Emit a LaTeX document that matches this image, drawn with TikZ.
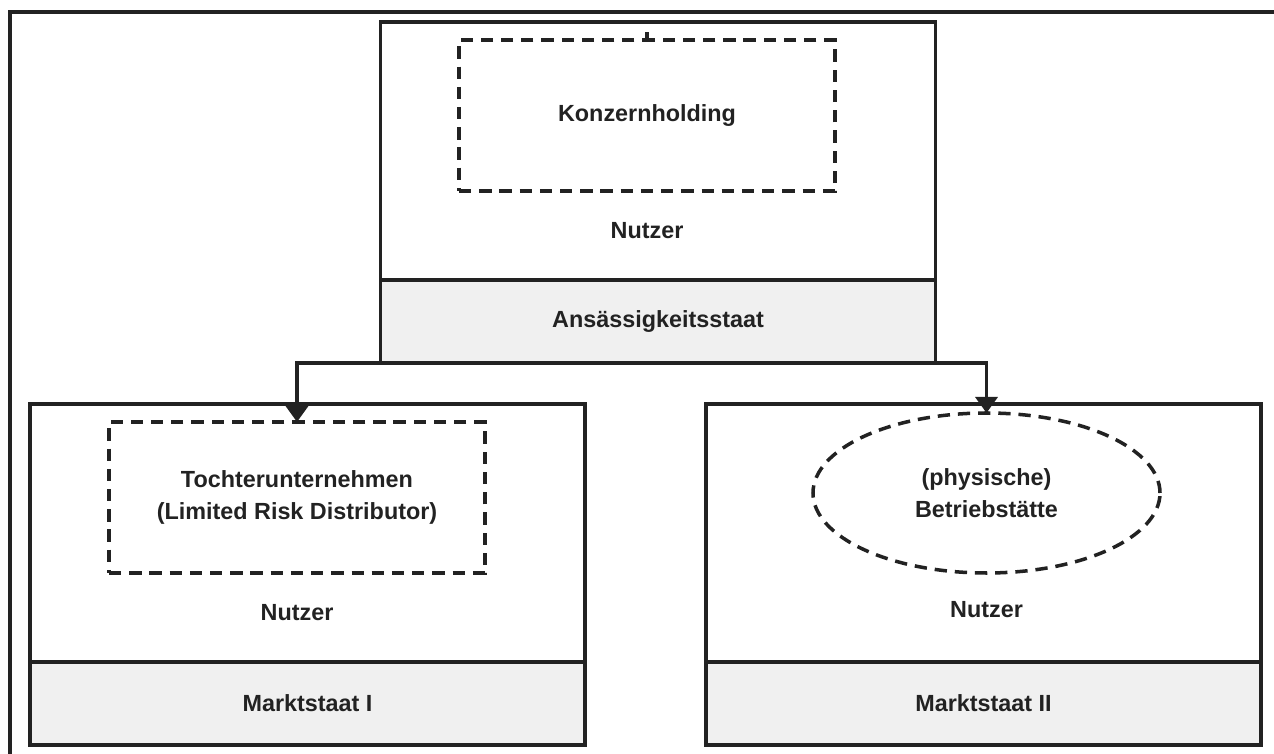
\documentclass[tikz,border=0pt]{standalone}
\usepackage{fontspec}
\setmainfont{Liberation Sans}
\usepackage{xcolor}
\usetikzlibrary{shapes.geometric, arrows.meta, positioning}

\definecolor{bandgray}{HTML}{F0F0F0}
\definecolor{inkgray}{HTML}{222222}

\begin{document}
\begin{tikzpicture}[
    upper/.style={rectangle, draw=inkgray, line width=1.8pt, outer sep=0pt, minimum width=11.1cm, minimum height=5.16cm},
    band/.style={rectangle, draw=inkgray, line width=1.8pt, outer sep=0pt, fill=bandgray, minimum width=11.1cm, minimum height=1.66cm, text=inkgray, font=\bfseries\fontsize{13.3}{18}\selectfont},
    inner/.style={rectangle, draw=inkgray, dash pattern=on 7pt off 4.5pt, line width=2pt, outer sep=0pt, minimum width=7.52cm, minimum height=3.02cm, align=center, text=inkgray, font=\bfseries\fontsize{13.3}{18}\selectfont},
    txt/.style={text=inkgray, font=\bfseries\fontsize{13.3}{18}\selectfont},
    arrow/.style={-{Triangle[length=0.32cm, width=0.44cm]}, line width=2pt, draw=inkgray}
]
\useasboundingbox (0,0) rectangle (25.48,-15.08);

% Outer frame (top and left edge only)
\draw[line width=2.4pt, inkgray] (25.48,-0.24) -- (0.2,-0.24) -- (0.2,-15.08);

% Residence state (top)
\node[upper] (topbox) at (13.16,-3.02) {};
\node[band, below=0pt of topbox] (ansaessig) {Ansässigkeitsstaat};
\node[inner] (holding) at (12.94,-2.31) {Konzernholding};
\node[txt, below=0.5cm of holding] (nutzerH) {Nutzer};
\draw[line width=1.8pt, inkgray] (holding.north) -- ++(0,0.16);

% Market state I (left)
\node[upper] (leftbox) at (6.15,-10.66) {};
\node[band, below=0pt of leftbox] (markt1) {Marktstaat I};
\node[inner] (tochter) at (5.94,-9.95) {Tochterunternehmen\\(Limited Risk Distributor)};
\node[txt, below=0.5cm of tochter] (nutzerL) {Nutzer};

% Market state II (right)
\node[upper] (rightbox) at (19.67,-10.66) {};
\node[band, below=0pt of rightbox] (markt2) {Marktstaat II};
\node[inner, ellipse, minimum width=6.94cm, minimum height=3.2cm, inner sep=0pt] (betrieb) at (19.73,-9.86) {(physische)\\Betriebstätte};
\node[txt, below=0.45cm of betrieb] (nutzerR) {Nutzer};

% Arrows
\draw[arrow] (ansaessig.south) -| (tochter.north);
\draw[arrow] (ansaessig.south) -| (betrieb.north);

\end{tikzpicture}
\end{document}
